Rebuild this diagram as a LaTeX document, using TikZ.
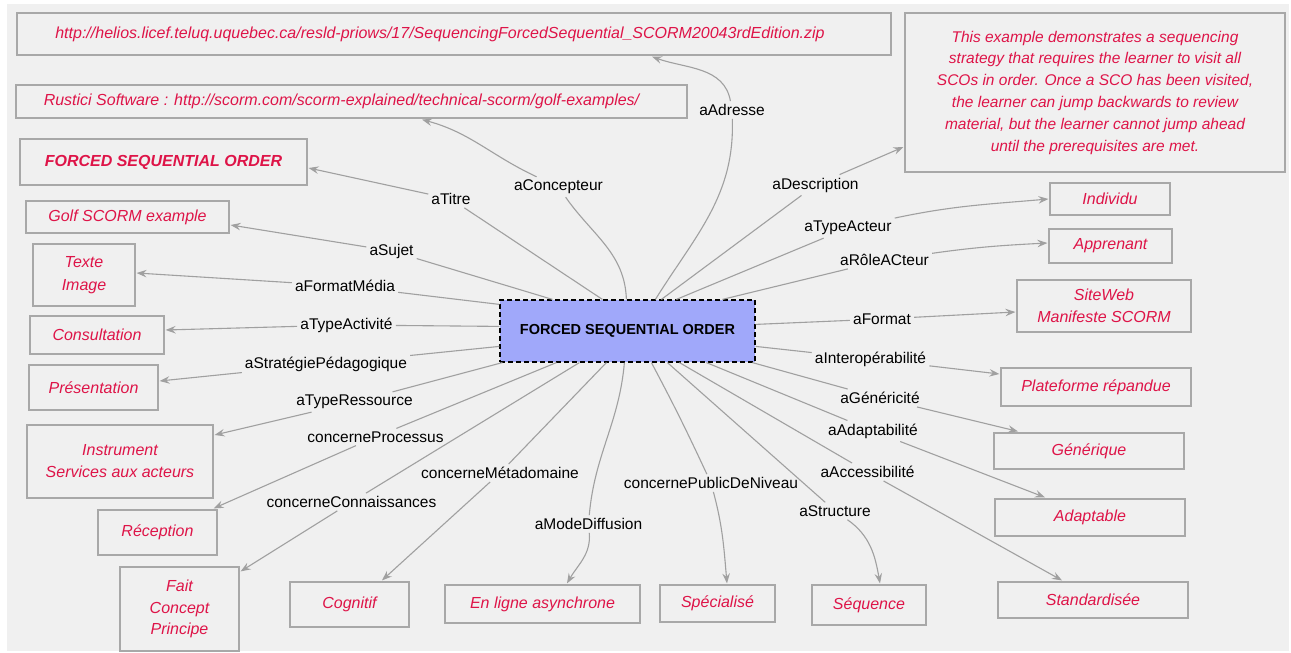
\documentclass[tikz,border=0pt]{standalone}
\usepackage{fontspec}
\setmainfont{Liberation Sans}
\usetikzlibrary{arrows.meta,calc}
\definecolor{bg}{RGB}{240,240,240}
\definecolor{edgegray}{RGB}{160,160,160}
\definecolor{boxgray}{RGB}{168,168,168}
\definecolor{crim}{RGB}{222,20,72}
\definecolor{cfill}{RGB}{160,168,250}
\begin{document}
\begin{tikzpicture}[x=1pt,y=1pt,
  valbox/.style={draw=boxgray, line width=1.2pt, text=crim, font=\fontsize{16}{22}\selectfont\itshape, align=center, inner sep=0pt},
  lab/.style={font=\fontsize{15.5}{18}\selectfont, text=black, inner sep=3pt},
  conn/.style={draw=edgegray, line width=1.1pt},
  arr/.style={conn, -{Stealth[length=10pt,width=7.5pt,inset=3.5pt]}, color=edgegray}]
\useasboundingbox (0,0) rectangle (1291,-653);
\fill[white] (0,0) rectangle (1291,-653);
\fill[bg] (7,-4) rectangle (1289,-651);

% value boxes
\node[valbox, minimum width=874pt, minimum height=42pt] (url) at (454,-34) {http://helios.licef.teluq.uquebec.ca/resld-priows/17/SequencingForcedSequential\_SCORM20043rdEdition.zip\hspace*{28pt}};
\node[valbox, minimum width=671pt, minimum height=33pt] (rustici) at (351.5,-101.5) {Rustici Software : http://scorm.com/scorm-explained/technical-scorm/golf-examples/\hspace*{20pt}};
\node[valbox, minimum width=287pt, minimum height=46pt, font=\fontsize{16}{20}\selectfont\bfseries\itshape] (title) at (163.5,-162) {FORCED SEQUENTIAL ORDER};
\node[valbox, minimum width=203pt, minimum height=32pt] (golf) at (127.5,-217) {Golf SCORM example};
\node[valbox, minimum width=102pt, minimum height=62pt, font=\fontsize{16}{23}\selectfont\itshape] (texte) at (84,-275) {Texte\\Image};
\node[valbox, minimum width=134pt, minimum height=38pt] (consult) at (97,-335) {Consultation};
\node[valbox, minimum width=129pt, minimum height=45pt] (present) at (93.5,-387.5) {Présentation};
\node[valbox, minimum width=186pt, minimum height=73pt] (instrument) at (120,-461.5) {Instrument\\Services aux acteurs};
\node[valbox, minimum width=119pt, minimum height=45pt] (reception) at (157.5,-532.5) {Réception};
\node[valbox, minimum width=119pt, minimum height=84pt, font=\fontsize{16}{21.5}\selectfont\itshape] (fait) at (179.5,-609) {Fait\\Concept\\Principe};
\node[valbox, minimum width=119pt, minimum height=45pt] (cognitif) at (349.5,-604.5) {Cognitif};
\node[valbox, minimum width=195pt, minimum height=38pt] (enligne) at (542.5,-604) {En ligne asynchrone};
\node[valbox, minimum width=115pt, minimum height=37pt] (special) at (717.5,-603.5) {Spécialisé};
\node[valbox, minimum width=114pt, minimum height=40pt] (sequence) at (869,-605) {Séquence};
\node[valbox, minimum width=190pt, minimum height=36pt] (standard) at (1093,-600) {Standardisée};
\node[valbox, minimum width=190pt, minimum height=37pt] (adaptable) at (1090,-517.5) {Adaptable};
\node[valbox, minimum width=190pt, minimum height=36pt] (generique) at (1089,-451) {Générique};
\node[valbox, minimum width=190pt, minimum height=38pt] (plateforme) at (1096,-387) {Plateforme répandue};
\node[valbox, minimum width=174pt, minimum height=52pt] (siteweb) at (1104,-306) {SiteWeb\\Manifeste SCORM};
\node[valbox, minimum width=123pt, minimum height=34pt] (apprenant) at (1110.5,-246) {Apprenant};
\node[valbox, minimum width=120pt, minimum height=32pt] (individu) at (1110,-199) {Individu};
\node[valbox, minimum width=380pt, minimum height=159pt, font=\fontsize{15.5}{21.8}\selectfont\itshape] (desc) at (1095,-92.5) {This example demonstrates a sequencing\\strategy that requires the learner to visit all\\SCOs in order. Once a SCO has been visited,\\the learner can jump backwards to review\\material, but the learner cannot jump ahead\\until the prerequisites are met.};

% central node
\node[draw=black, dash pattern=on 5pt off 3pt, line width=1.2pt, fill=cfill, minimum width=255pt, minimum height=62pt, font=\fontsize{14.5}{17}\selectfont\bfseries] (c) at (627.5,-331) {FORCED SEQUENTIAL ORDER};

% labels
\node[lab] (lAdresse) at (732,-110) {aAdresse};
\node[lab] (lConcepteur) at (558.5,-187) {aConcepteur};
\node[lab] (lTitre) at (451,-199) {aTitre};
\node[lab] (lDescription) at (815.5,-185) {aDescription};
\node[lab] (lSujet) at (391.5,-251) {aSujet};
\node[lab] (lFormatMedia) at (345,-286) {aFormatMédia};
\node[lab] (lTypeActivite) at (346.5,-325) {aTypeActivité};
\node[lab] (lStrategie) at (326,-364) {aStratégiePédagogique};
\node[lab] (lTypeRessource) at (354.5,-402) {aTypeRessource};
\node[lab] (lProcessus) at (375.5,-437) {concerneProcessus};
\node[lab] (lConnaissances) at (351.5,-502) {concerneConnaissances};
\node[lab] (lMetadomaine) at (500,-473) {concerneMétadomaine};
\node[lab] (lModeDiffusion) at (588.5,-524) {aModeDiffusion};
\node[lab] (lPublic) at (711,-483) {concernePublicDeNiveau};
\node[lab] (lStructure) at (835,-511) {aStructure};
\node[lab] (lAccessibilite) at (867.5,-472) {aAccessibilité};
\node[lab] (lAdaptabilite) at (873,-431) {aAdaptabilité};
\node[lab] (lGenericite) at (880,-398) {aGénéricité};
\node[lab] (lInterop) at (870.5,-359) {aInteropérabilité};
\node[lab] (lFormat) at (882,-319) {aFormat};
\node[lab] (lRole) at (884.5,-260) {aRôleACteur};
\node[lab] (lTypeActeur) at (848,-228) {aTypeActeur};

% connectors
\draw[conn] ([xshift=156pt]c.north west) to[out=58,in=-88] (lAdresse);
\draw[arr] (lAdresse) to[out=100,in=-20] ($(url.south)+(198,-1)$);
\draw[conn] ([xshift=127pt]c.north west) to[out=92,in=-55] (lConcepteur);
\draw[arr] (lConcepteur) to[out=155,in=-15] ($(rustici.south)+(70.5,-1)$);
\draw[conn] ([xshift=103pt]c.north west) -- (lTitre);
\draw[arr] (lTitre) -- ($(title.east)+(1,-6)$);
\draw[conn] ([xshift=53pt]c.north west) -- (lSujet);
\draw[arr] (lSujet) -- ($(golf.east)+(1,-8)$);
\draw[conn] ([yshift=-5pt]c.north west) -- (lFormatMedia);
\draw[arr] (lFormatMedia) -- ($(texte.east)+(1,2)$);
\draw[conn] ([yshift=-27pt]c.north west) -- (lTypeActivite);
\draw[arr] (lTypeActivite) -- ($(consult.east)+(1,5)$);
\draw[conn] ([yshift=-47pt]c.north west) -- (lStrategie);
\draw[arr] (lStrategie) -- ($(present.east)+(1,6.5)$);
\draw[conn] ([xshift=3pt]c.south west) -- (lTypeRessource);
\draw[arr] (lTypeRessource) -- ($(instrument.east)+(1,26.5)$);
\draw[conn] ([xshift=57pt]c.south west) -- (lProcessus);
\draw[arr] (lProcessus) -- ($(reception.north east)+(-4,1)$);
\draw[conn] ([xshift=80pt]c.south west) -- (lConnaissances);
\draw[arr] (lConnaissances) -- ($(fait.north east)+(1,-5)$);
\draw[conn] ([xshift=107pt]c.south west) -- (lMetadomaine);
\draw[arr] (lMetadomaine) -- ($(cognitif.north)+(32.5,1)$);
\draw[conn] ([xshift=125pt]c.south west) to[out=-95,in=85] (lModeDiffusion);
\draw[arr] (lModeDiffusion) to[out=-85,in=60] ($(enligne.north)+(24.5,1)$);
\draw[conn] ([xshift=152pt]c.south west) to[out=-62,in=115] (lPublic);
\draw[arr] (lPublic) to[out=-75,in=95] ($(special.north)+(9.5,1)$);
\draw[conn] ([xshift=168pt]c.south west) -- (lStructure);
\draw[arr] (lStructure) to[out=-35,in=100] ($(sequence.north)+(11,1)$);
\draw[conn] ([xshift=180pt]c.south west) -- (lAccessibilite);
\draw[arr] (lAccessibilite) -- ($(standard.north)+(-31,1)$);
\draw[conn] ([xshift=207pt]c.south west) -- (lAdaptabilite);
\draw[arr] (lAdaptabilite) -- ($(adaptable.north)+(-45,1)$);
\draw[conn] ([xshift=253pt]c.south west) -- (lGenericite);
\draw[arr] (lGenericite) -- ($(generique.north)+(-71,1)$);
\draw[conn] ([yshift=-47pt]c.north east) -- (lInterop);
\draw[arr] (lInterop) -- ($(plateforme.west)+(-1,13)$);
\draw[conn] ([yshift=-25pt]c.north east) -- (lFormat);
\draw[arr] (lFormat) -- ($(siteweb.west)+(-1,-6)$);
\draw[conn] ([xshift=223pt]c.north west) -- (lRole);
\draw[arr] (lRole) to[out=8,in=183] ($(apprenant.west)+(-1,3)$);
\draw[conn] ([xshift=177pt]c.north west) -- (lTypeActeur);
\draw[arr] (lTypeActeur) to[out=12,in=185] ($(individu.west)+(-1,0)$);
\draw[conn] ([xshift=162pt]c.north west) -- (lDescription);
\draw[arr] (lDescription) -- ($(desc.west)+(-1,-54.5)$);
\end{tikzpicture}
\end{document}
